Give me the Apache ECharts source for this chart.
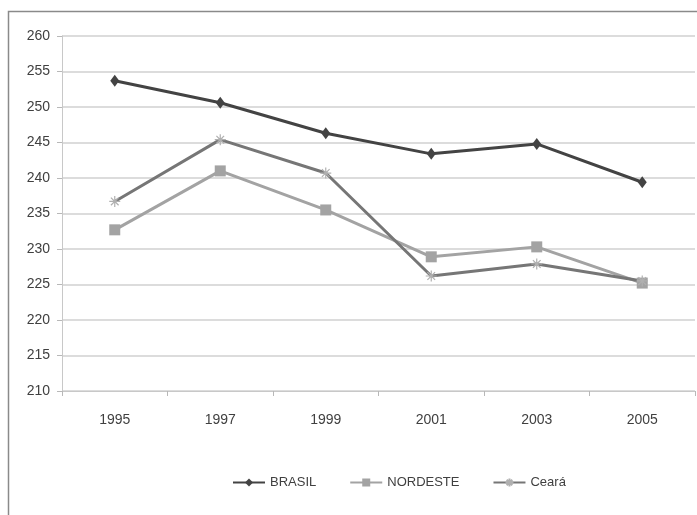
<!DOCTYPE html>
<html>
<head>
<meta charset="utf-8">
<script src="https://cdn.jsdelivr.net/npm/echarts@6/dist/echarts.min.js"></script>
<style>
  html, body { margin: 0; padding: 0; background: #ffffff; }
  #chart { width: 697px; height: 515px; }
</style>
</head>
<body>
<div id="chart"></div>
<script>
// Years on the category axis
const years = ['1995', '1997', '1999', '2001', '2003', '2005'];

// Average scores per region
const brasil   = [253.7, 250.6, 246.3, 243.4, 244.8, 239.4];
const nordeste = [232.7, 241.0, 235.5, 228.9, 230.3, 225.2];
const ceara    = [236.7, 245.4, 240.7, 226.2, 227.9, 225.5];

// Value-axis range
const yMin = 210;
const yMax = 260;
const yStep = 5;

const labelFont = 'Liberation Sans, Arial, sans-serif';
const asterisk = 'path://M0,5L10,5M5,0L5,10M1.5,1.5L8.5,8.5M8.5,1.5L1.5,8.5';

const chart = echarts.init(document.getElementById('chart'));
chart.setOption({
  backgroundColor: '#ffffff',
  animation: false,
  graphic: [{
    type: 'rect',
    shape: { x: 8.5, y: 11.5, width: 700, height: 520 },
    style: { fill: 'none', stroke: '#8a8a8a', lineWidth: 1.5 },
    silent: true
  }],
  grid: { left: 62, right: 2, top: 36, bottom: 124 },
  legend: {
    top: 471,
    left: 227,
    itemWidth: 32,
    itemHeight: 10,
    itemGap: 33,
    textStyle: { fontFamily: labelFont, fontSize: 13, color: '#404040' },
    data: ['BRASIL', 'NORDESTE', 'Ceará']
  },
  xAxis: {
    type: 'category',
    data: years,
    boundaryGap: true,
    axisLine: { lineStyle: { color: '#c8c8c8', width: 1 } },
    axisTick: { show: true, length: 5, lineStyle: { color: '#b8b8b8' } },
    axisLabel: { fontFamily: labelFont, fontSize: 14, color: '#404040', margin: 22 }
  },
  yAxis: {
    type: 'value',
    min: yMin,
    max: yMax,
    interval: yStep,
    axisLine: { show: true, lineStyle: { color: '#c8c8c8', width: 1 } },
    axisTick: { show: true, length: 5, lineStyle: { color: '#b8b8b8' } },
    axisLabel: { fontFamily: labelFont, fontSize: 14, color: '#404040', margin: 12 },
    splitLine: { lineStyle: { color: '#d0d0d0', width: 1.5 } }
  },
  series: [
    {
      name: 'BRASIL',
      type: 'line',
      data: brasil,
      symbol: 'diamond',
      symbolSize: [9, 12],
      lineStyle: { color: '#434343', width: 3 },
      itemStyle: { color: '#434343' }
    },
    {
      name: 'NORDESTE',
      type: 'line',
      data: nordeste,
      symbol: 'rect',
      symbolSize: 11,
      lineStyle: { color: '#a3a3a3', width: 3 },
      itemStyle: { color: '#a3a3a3' }
    },
    {
      name: 'Ceará',
      type: 'line',
      data: ceara,
      symbol: asterisk,
      symbolSize: 11,
      lineStyle: { color: '#767676', width: 3 },
      itemStyle: { color: 'none', borderColor: '#b0b0b0', borderWidth: 1.2 }
    }
  ]
});
</script>
</body>
</html>
